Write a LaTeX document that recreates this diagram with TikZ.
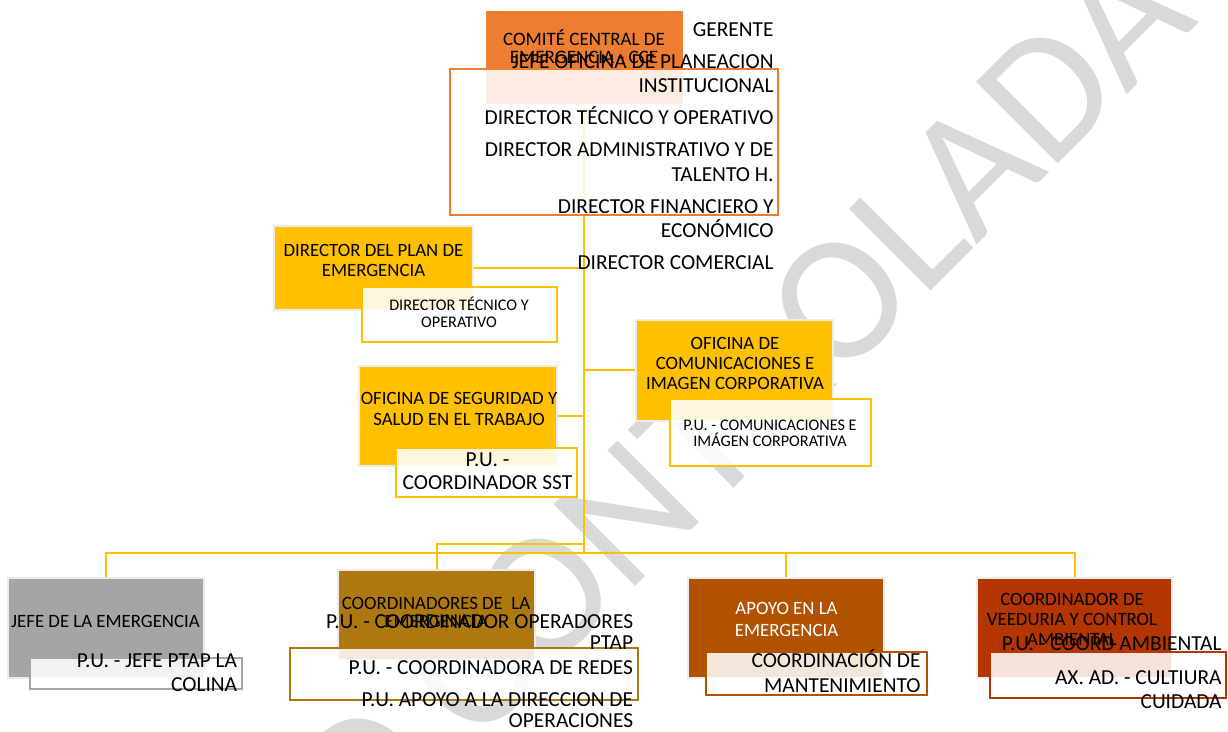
\documentclass[tikz,border=0pt]{standalone}
\usepackage{fontspec}
\setmainfont{Carlito}
\usetikzlibrary{positioning}
\definecolor{ccorange}{HTML}{ED7D31}
\definecolor{ccyellow}{HTML}{FFC000}
\definecolor{ccgray}{HTML}{A5A5A5}
\definecolor{ccgold}{HTML}{AE7811}
\definecolor{ccbrown}{HTML}{B05200}
\definecolor{ccrust}{HTML}{B33500}
\tikzset{
    box/.style={rectangle,inner sep=0pt,draw=gray!15,line width=1pt},
    sub/.style={rectangle,inner sep=0pt,fill=white,fill opacity=0.86,line width=1.2pt},
    link/.style={draw=ccyellow,line width=1pt},
    ttl/.style={align=center,inner sep=0pt,anchor=base,font=\fontsize{9.4}{10}\selectfont},
    sml/.style={align=center,inner sep=0pt,anchor=base,font=\fontsize{8.1}{8.3}\selectfont},
    lst/.style={align=right,inner sep=0pt,anchor=base east,font=\fontsize{10.7}{12}\selectfont}
}

\begin{document}
\begin{tikzpicture}[x=0.5pt,y=-0.5pt]
                \useasboundingbox (0,0) rectangle (1228,732);
                \node[rotate=45,anchor=base east,inner sep=0pt,text=gray!30,font=\fontsize{90}{90}\selectfont] (wm) at (1200,22) {COPIA NO CONTROLADA};
                \node[box,fill=ccorange,draw=none,minimum width=98.5pt,minimum height=46.5pt] (cce) at (584,57.5) {};
                \node[box,fill=ccyellow,minimum width=99.5pt,minimum height=42pt] (dpe) at (373.5,268) {};
                \node[box,fill=ccyellow,minimum width=99pt,minimum height=50pt] (sst) at (458,416) {};
                \node[box,fill=ccyellow,minimum width=98.5pt,minimum height=50.5pt] (com) at (734.5,370.5) {};
                \node[box,fill=ccgray,minimum width=98pt,minimum height=50pt] (jefe) at (106,628) {};
                \node[box,fill=ccgold,minimum width=98.5pt,minimum height=45pt] (coord) at (436.5,615) {};
                \node[box,fill=ccbrown,minimum width=98pt,minimum height=50pt] (apoyo) at (786,628) {};
                \node[box,fill=ccrust,minimum width=97.5pt,minimum height=50pt] (veed) at (1074.5,628) {};
                \coordinate (bus) at (584,553);
                \coordinate (fork) at (584,544);
                \draw[link] (cce.south) -- (bus);
                \draw[link] (dpe.east) -- (dpe.east -| bus);
                \draw[link] (sst.east) -- (sst.east -| bus);
                \draw[link] (com.west -| bus) -- (com.west);
                \draw[link] (jefe.north) |- (bus) -| (veed.north);
                \draw[link] (apoyo.north) -- (apoyo.north |- bus);
                \draw[link] (fork) -| (coord.north);
                \node[sub,draw=ccorange,minimum width=164pt,minimum height=73pt] (dir) at (614,142) {};
                \node[sub,draw=ccyellow,minimum width=97.5pt,minimum height=27.5pt] (dpesub) at (459.5,314.5) {};
                \node[sub,draw=ccyellow,minimum width=90.5pt,minimum height=24.5pt] (sstsub) at (486.5,472.5) {};
                \node[sub,draw=ccyellow,minimum width=100.5pt,minimum height=33.5pt] (comsub) at (770.5,432.5) {};
                \node[sub,draw=ccgray,minimum width=106pt,minimum height=15.5pt] (jefesub) at (136,673.5) {};
                \node[sub,draw=ccgold,minimum width=174pt,minimum height=26pt] (coordsub) at (464,674) {};
                \node[sub,draw=ccbrown,minimum width=110.5pt,minimum height=21.5pt] (apoyosub) at (816.5,673.5) {};
                \node[sub,draw=ccrust,minimum width=118pt,minimum height=23pt] (veedsub) at (1108,675) {};
                \node[ttl,font=\fontsize{9.5}{9}\selectfont] (ccet) at (584,64) {COMITÉ CENTRAL DE\\EMERGENCIA - CCE};
                \node[lst,font=\fontsize{10.7}{12.1}\selectfont] (dirt) at (774,269.3) {GERENTE\\[3.9pt]JEFE OFICINA DE PLANEACION\\INSTITUCIONAL\\[3.9pt]DIRECTOR TÉCNICO Y OPERATIVO\\[3.9pt]DIRECTOR ADMINISTRATIVO Y DE\\TALENTO H.\\[3.9pt]DIRECTOR FINANCIERO Y\\ECONÓMICO\\[3.9pt]DIRECTOR COMERCIAL};
                \node[ttl] (dpet) at (373.5,277) {DIRECTOR DEL PLAN DE\\EMERGENCIA};
                \node[sml] (dpes) at (459,327.3) {DIRECTOR TÉCNICO Y\\OPERATIVO};
                \node[ttl,font=\fontsize{9.4}{10.5}\selectfont] (sstt) at (459,425.5) {OFICINA DE SEGURIDAD Y\\SALUD EN EL TRABAJO};
                \node[ttl,font=\fontsize{10.7}{11.7}\selectfont] (ssts) at (487.5,490) {P.U. -\\COORDINADOR SST};
                \node[ttl] (comt) at (735,390) {OFICINA DE\\COMUNICACIONES E\\IMAGEN CORPORATIVA};
                \node[sml] (coms) at (770,446.7) {P.U. - COMUNICACIONES E\\IMÁGEN CORPORATIVA};
                \node[ttl] (jefet) at (105.5,627.3) {JEFE DE LA EMERGENCIA};
                \node[lst] (jefes) at (237.5,691.7) {P.U. - JEFE PTAP LA\\COLINA};
                \node[ttl,font=\fontsize{9.4}{9}\selectfont] (coordt) at (436,628) {COORDINADORES DE\ \ LA\\EMERGENCIA};
                \node[lst,font=\fontsize{10.7}{10.75}\selectfont] (coords) at (633.5,728) {P.U. - COORDINADOR OPERADORES\\PTAP\\[1.75pt]P.U. - COORDINADORA DE REDES\\[5.25pt]P.U. APOYO A LA DIRECCION DE\\OPERACIONES};
                \node[ttl,text=white,font=\fontsize{9.4}{11}\selectfont] (apoyot) at (786.5,637) {APOYO EN LA\\EMERGENCIA};
                \node[lst,font=\fontsize{10.7}{12.5}\selectfont] (apoyos) at (921,692.5) {COORDINACIÓN DE\\MANTENIMIENTO};
                \node[ttl] (veedt) at (1072,646) {COORDINADOR DE\\VEEDURIA Y CONTROL\\AMBIENTAL};
                \node[lst] (veeds) at (1222,709) {P.U. - COORD AMBIENTAL\\[5pt]AX. AD. - CULTIURA\\CUIDADA};
            \end{tikzpicture}
\end{document}
